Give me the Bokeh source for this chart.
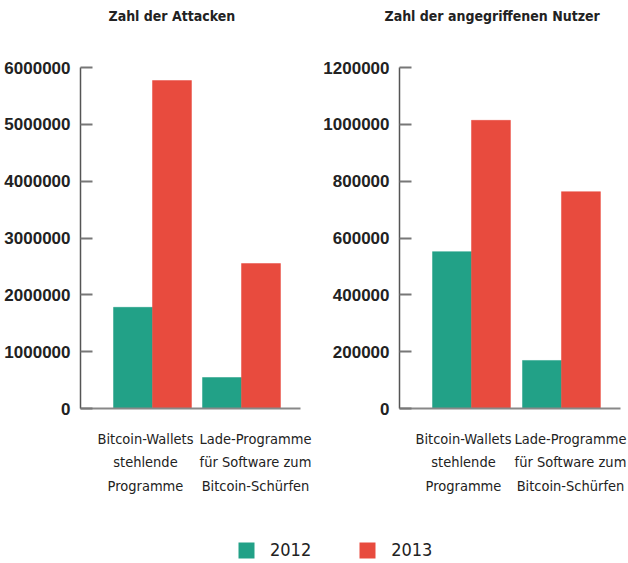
from bokeh.plotting import figure
from bokeh.models import (ColumnDataSource, Range1d, SingleIntervalTicker, FixedTicker,
                          BasicTickFormatter, Legend, LegendItem, Title)
from bokeh.layouts import column, row
from bokeh.transform import dodge
from bokeh.embed import file_html
from bokeh.resources import INLINE

# ---- data ----
categories = ["Bitcoin-Wallets\nstehlende\nProgramme",
              "Lade-Programme\nfür Software zum\nBitcoin-Schürfen"]
years = ["2012", "2013"]
attacks_2012 = [1780000, 545000]
attacks_2013 = [5770000, 2550000]
users_2012 = [552000, 169000]
users_2013 = [1014000, 763000]
titles = ["Zahl der Attacken", "Zahl der angegriffenen Nutzer"]

GREEN = "#22a187"
RED = "#e84b3e"
FONT = "DejaVu Sans Condensed"
TICKFONT = "Liberation Sans"
TXT = "#222222"


def make_chart(title, v12, v13, x_start, x_end, bw, ymax, yint, label_ticks,
               border_left, border_right, fw, title_offset):
    idx = list(range(len(categories)))
    src = ColumnDataSource(dict(x=idx, y12=v12, y13=v13))
    p = figure(frame_width=fw, frame_height=341,
               x_range=Range1d(x_start, x_end), y_range=Range1d(0, ymax),
               min_border_left=border_left, min_border_right=border_right,
               min_border_top=67, min_border_bottom=97,
               toolbar_location=None, output_backend="svg")
    p.title = Title(text=title, align="left", offset=title_offset, standoff=10,
                    text_font=FONT, text_font_size="14px", text_font_style="bold",
                    text_color=TXT)
    # spacer between the title and the frame
    p.add_layout(Title(text=" ", text_font_size="1px", standoff=36), "above")
    p.vbar(x=dodge("x", -bw / 2, range=p.x_range), top="y12", width=bw, bottom=0,
           source=src, fill_color=GREEN, line_color=GREEN, line_width=0.5)
    p.vbar(x=dodge("x", bw / 2, range=p.x_range), top="y13", width=bw, bottom=0,
           source=src, fill_color=RED, line_color=RED, line_width=0.5)
    p.grid.visible = False
    p.outline_line_color = None

    ya = p.yaxis[0]
    ya.ticker = SingleIntervalTicker(interval=yint)
    ya.formatter = BasicTickFormatter(use_scientific=False)
    ya.axis_line_color = "#555555"
    ya.axis_line_width = 1.5
    ya.major_tick_in = 12
    ya.major_tick_out = 0
    ya.major_tick_line_color = "#777777"
    ya.major_tick_line_width = 2
    ya.minor_tick_line_color = None
    ya.major_label_text_font = TICKFONT
    ya.major_label_text_font_style = "bold"
    ya.major_label_text_font_size = "17px"
    ya.major_label_text_color = TXT
    ya.major_label_standoff = 6

    xa = p.xaxis[0]
    xa.ticker = FixedTicker(ticks=label_ticks)
    xa.major_label_overrides = {t: c for t, c in zip(label_ticks, categories)}
    xa.axis_line_color = "#888888"
    xa.axis_line_width = 2
    xa.major_tick_line_color = None
    xa.minor_tick_line_color = None
    xa.major_label_text_font = FONT
    xa.major_label_text_font_size = "14.5px"
    xa.major_label_text_color = TXT
    xa.major_label_text_line_height = 1.48
    xa.major_label_standoff = 16
    return p


p1 = make_chart(titles[0], attacks_2012, attacks_2013, -0.809, 1.663, 0.438,
                6000000, 1000000, [-0.079, 1.157], 80, 18, 220, 28)
p2 = make_chart(titles[1], users_2012, users_2013, -0.8, 1.656, 0.433,
                1200000, 200000, [-0.089, 1.10], 81, 8, 221, -15)

# ---- legend strip ----
p3 = figure(width=628, height=58, x_range=Range1d(0, 1), y_range=Range1d(1, 2),
            x_axis_location=None, y_axis_location=None, min_border=0,
            toolbar_location=None, output_backend="svg")
p3.grid.visible = False
p3.outline_line_color = None
# zero-size stand-in renderers, only used to give the legend its swatches
r12 = p3.vbar(x=[0], top=[0], width=0, fill_color=GREEN, line_color=None)
r13 = p3.vbar(x=[0], top=[0], width=0, fill_color=RED, line_color=None)
leg = Legend(items=[LegendItem(label=years[0], renderers=[r12]),
                    LegendItem(label=years[1], renderers=[r13])],
             orientation="horizontal", location=(236, 3),
             glyph_width=20, glyph_height=20, label_standoff=14, spacing=46,
             padding=0, margin=0, border_line_color=None, background_fill_alpha=0,
             label_text_font=FONT, label_text_font_size="18px", label_text_color=TXT)
p3.add_layout(leg, "center")

layout = column(row(p1, p2, spacing=0), p3, spacing=0)
open("out.html", "w").write(file_html(layout, INLINE))
